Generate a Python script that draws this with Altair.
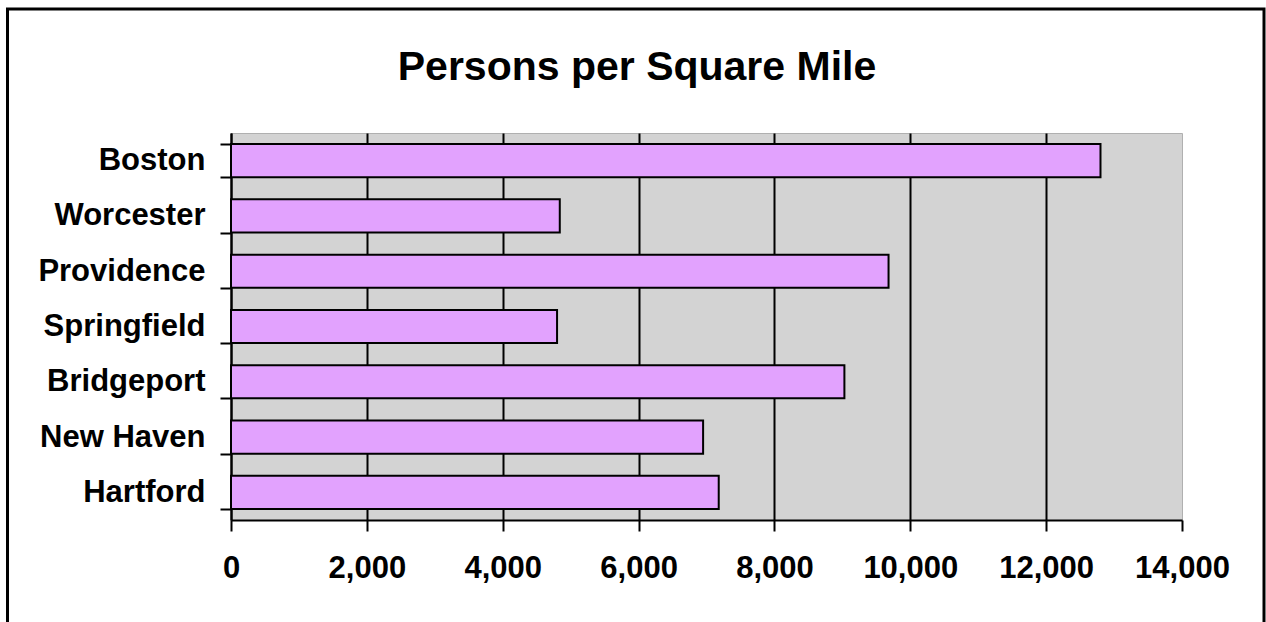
import altair as alt
import pandas as pd

# Population density of New England cities (persons per square mile)
cities = ["Boston", "Worcester", "Providence", "Springfield", "Bridgeport", "New Haven", "Hartford"]
density = [12800, 4840, 9680, 4800, 9030, 6950, 7180]
x_ticks = [0, 2000, 4000, 6000, 8000, 10000, 12000, 14000]
chart_title = "Persons per Square Mile"

FONT = "Liberation Sans"
W, H = 951, 387          # plot area
PAD = {"left": 231, "top": 133, "right": 84, "bottom": 102}

df = pd.DataFrame({"city": cities, "density": density})
one_row = pd.DataFrame({"k": [0]})

bars = alt.Chart(df).mark_bar(fill="#E2A2FE", stroke="black", strokeWidth=2).encode(
    x=alt.X(
        "density:Q",
        scale=alt.Scale(domain=[0, 14000], nice=False),
        axis=alt.Axis(
            values=x_ticks, format=",d", title=None,
            grid=True, gridWidth=2,
            gridColor={"condition": {"test": "datum.value === 14000", "value": "transparent"},
                       "value": "black"},
            domainColor="black", domainWidth=2,
            tickColor="black", tickWidth=2, tickSize=11,
            labelFont=FONT, labelFontSize=31, labelFontWeight="bold", labelColor="black",
            labelPadding=22, labelFlush=False, labelOverlap=False,
        ),
    ),
    y=alt.Y(
        "city:N", sort=cities,
        scale=alt.Scale(paddingInner=0.4, paddingOuter=0.2),
        axis=alt.Axis(
            title=None, grid=False, tickBand="extent",
            domainColor="black", domainWidth=2,
            tickColor="black", tickWidth=2, tickSize=11,
            labelFont=FONT, labelFontSize=31, labelFontWeight="bold", labelColor="black",
            labelPadding=15, labelLimit=400,
        ),
    ),
)

# outer chart frame
frame = alt.Chart(one_row).mark_rect(fillOpacity=0, stroke="black", strokeWidth=3).encode(
    x=alt.value(-223.5), x2=alt.value(1033), y=alt.value(-124), y2=alt.value(H + 110)
)

heading = alt.Chart(one_row).mark_text(
    text=chart_title, font=FONT, fontSize=41, fontWeight="bold",
    align="center", baseline="alphabetic", color="black",
).encode(x=alt.value(406), y=alt.value(-53))

chart = alt.layer(frame, bars, heading).properties(
    width=W, height=H, padding=PAD,
    autosize=alt.AutoSizeParams(type="none"),
    background="white",
).configure_view(fill="#D3D3D3", stroke="#B0B0B0", strokeWidth=1)

chart.save("out.html", embed_options={"renderer": "svg", "actions": False})
